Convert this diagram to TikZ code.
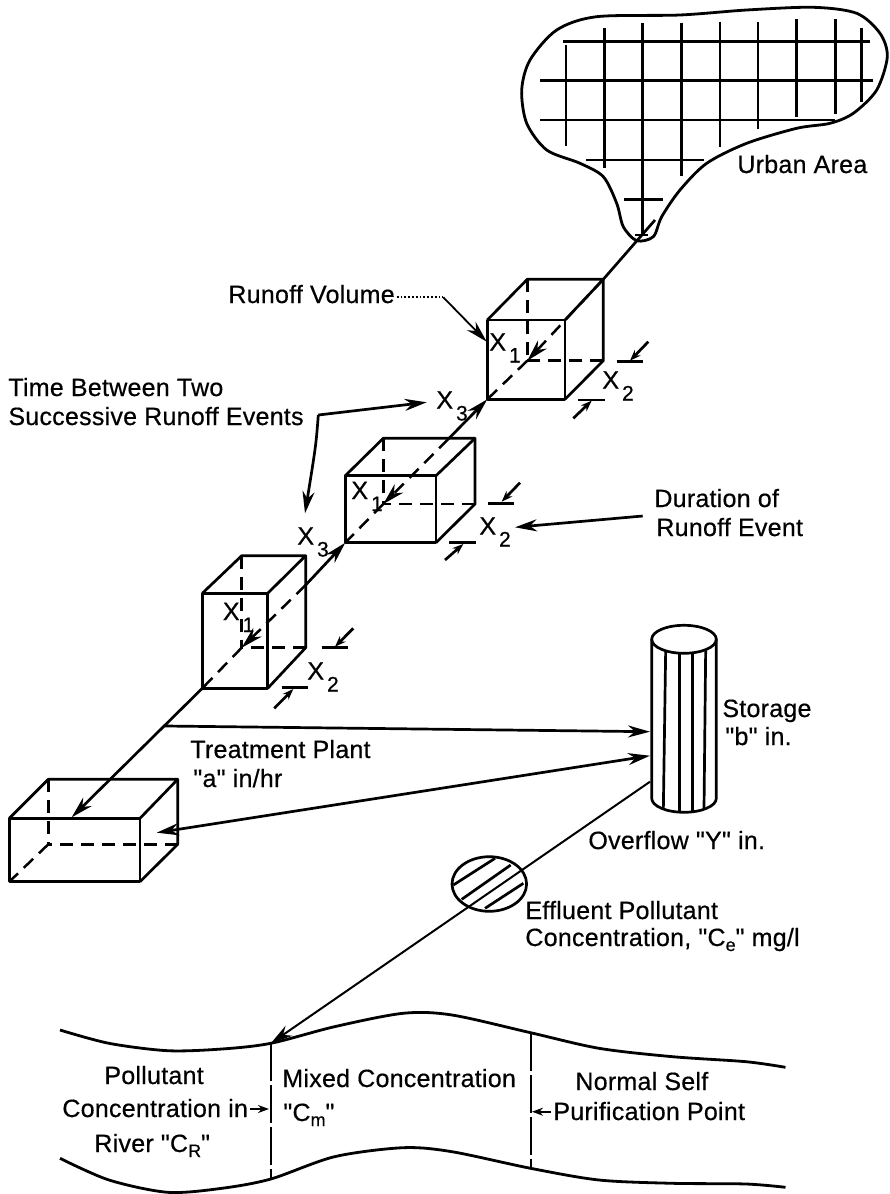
\documentclass[tikz,border=0pt]{standalone}
\usepackage{fontspec}
\usetikzlibrary{arrows.meta}
\newfontfamily\lblfont[LetterSpace=1,FakeBold=0.5]{Liberation Sans}
\newcommand{\Xs}[2]{#1\kern1.5pt\raisebox{-6pt}{\fontsize{10.5}{11}\selectfont #2}}
\newcommand{\subsc}[1]{\raisebox{-2.5pt}{\fontsize{9}{10}\selectfont #1}}
% name, front left/top, front right/bottom, back left/top, back right/bottom
\newcommand{\isobox}[9]{%
  \coordinate (#1f1) at (#2,#3); \coordinate (#1f2) at (#4,#3);
  \coordinate (#1f3) at (#4,#5); \coordinate (#1f4) at (#2,#5);
  \coordinate (#1b1) at (#6,#7); \coordinate (#1b2) at (#8,#7);
  \coordinate (#1b3) at (#8,#9); \coordinate (#1b4) at (#6,#9);
  \draw[boxline] (#1f1) -- (#1f2) -- (#1f3) -- (#1f4) -- cycle;
  \draw[boxline] (#1f1) -- (#1b1) -- (#1b2) -- (#1f2);
  \draw[boxline] (#1b2) -- (#1b3) -- (#1f3);
  \draw[hidden] (#1b1) -- (#1b4);
  \draw[hidden] (#1b3) -- (#1b4);
  \draw[hidden] (#1b4) -- (#1f4);
}
\tikzset{
  boxline/.style={line width=1.35pt,line join=round},
  hidden/.style={line width=1.25pt,dash pattern=on 6.5pt off 4pt},
  flow/.style={line width=1.35pt},
  thin line/.style={line width=0.9pt},
  bigarrow/.style={-{Stealth[length=11pt,width=6pt]}},
  smallarrow/.style={-{Stealth[length=5.5pt,width=4pt]}},
  street/.style={line width=1.4pt},
  lbl/.style={inner sep=0pt,anchor=base west,font=\lblfont\fontsize{12.5}{14}\selectfont},
  zoomed/.style={x=0.16667pt,y=-0.16667pt}
}
\begin{document}
\begin{tikzpicture}[x=0.5pt,y=-0.5pt]
\useasboundingbox (0,0) rectangle (889,1194);

% urban area
\draw[line width=1.4pt] plot[smooth cycle] coordinates {(521.7,90) (530,60) (556.7,30) (596.7,16.7) (680,15) (746.7,10) (813.3,7.3) (856.7,13.3) (880,33.3) (887.3,56.7) (876.7,90) (853.3,113.3) (830,123.3) (796.7,128.3) (746.7,143.3) (706.7,163.3) (680,190) (661.7,216.7) (653.3,236.7) (636.7,240.7) (623.3,226.7) (616.7,203.3) (603.3,176.7) (580,163.3) (546.7,150) (526.7,123.3)};
\begin{scope}[shift={(480,0)},zoomed]
  \foreach \ya/\xa/\xb in {125/250/1170,241/180/1180,360/180/1065,480/318/672,598/432/550,705/465/505}
    \draw[street] (\xa,\ya) -- (\xb,\ya);
  \foreach \xa/\ya/\yb in {258/135/437,374/85/505,487/70/705,605/68/528,720/65/440,834/65/388,950/58/350,1067/58/342,1145/83/307}
    \draw[street] (\xa,\ya) -- (\xa,\yb);
\end{scope}
\node[lbl] (urban) at (737,173) {Urban Area};

% boxes
\isobox{a}{487.3}{320}{565}{399.3}{527.3}{279.3}{603.3}{360.7}
\isobox{c}{345.3}{475.7}{436}{542.7}{383.3}{438.3}{475}{504}
\isobox{d}{202.3}{593.3}{267.7}{688.3}{241.7}{555.7}{305.7}{647.7}
\isobox{e}{9.3}{818.3}{140}{881.7}{48.3}{779.3}{177.7}{844.3}

% main flow line
\coordinate (tip) at (655,220);
\coordinate (ctop) at (448.3,439);
\coordinate (dtop) at (305.7,585);
\coordinate (branch) at (165,726);
\coordinate (earrow) at (71.7,817.3);
\draw[flow] (tip) -- (ab2);
\draw[hidden,bigarrow] (ab2) -- (ab4);
\draw[flow,bigarrow] (ctop) -- (af4);
\draw[hidden,bigarrow] (ctop) -- (cb4);
\draw[flow,bigarrow] (dtop) -- (cf4);
\draw[hidden,bigarrow] (dtop) -- (db4);
\draw[flow,bigarrow] (df4) -- (earrow);

% dimension marks
\foreach \ax/\ay/\bx/\by/\cx/\cy/\dx/\dy in {
  616.7/361.7/643.3/361.7/648.3/341.7/630/360.7,
  578.3/400/605/400/573.3/418.3/591.7/400.7,
  488.3/503.3/514.3/503.3/520/482.7/501.7/501.7,
  449.3/542.7/476/542.7/445/560/463.3/544,
  321.7/647.7/348.3/647.7/353.3/628.3/335/646.7,
  281.7/687.3/308.3/687.3/274.3/708.3/293.3/689}{
  \draw[flow] (\ax,\ay) -- (\bx,\by);
  \draw[flow,smallarrow] (\cx,\cy) -- (\dx,\dy);
}

% X labels
\node[lbl] (xa1) at (489,350.5) {\Xs{X}{1}};
\node[lbl] (xa2) at (602,388.5) {\Xs{X}{2}};
\node[lbl] (xa3) at (436,408.5) {\Xs{X}{3}};
\node[lbl] (xc1) at (351,499) {\Xs{X}{1}};
\node[lbl] (xc2) at (479,534.5) {\Xs{X}{2}};
\node[lbl] (xc3) at (297,544.5) {\Xs{X}{3}};
\node[lbl] (xd1) at (222.5,620) {\Xs{X}{1}};
\node[lbl] (xd2) at (307,679.5) {\Xs{X}{2}};

% upper left labels
\node[lbl] (runoff) at (228,303) {Runoff Volume};
\coordinate (rbend) at (443.3,297.3);
\coordinate (rstart) at (396.7,297.3);
\coordinate (rend) at (486.7,341.7);
\draw[thin line,densely dotted] (rstart) -- (rbend);
\draw[thin line,bigarrow] (rbend) -- (rend);
\node[lbl] (time1) at (8,396) {Time Between Two};
\node[lbl] (time2) at (8,425) {Successive Runoff Events};
\coordinate (bend) at (318.3,415);
\coordinate (to3a) at (426.7,402.3);
\coordinate (to3c) at (305,513.3);
\draw[flow,bigarrow] (bend) -- (to3a);
\draw[flow,bigarrow] (bend) .. controls (316,445) .. (to3c);

\node[lbl] (dur1) at (654,507) {Duration of};
\node[lbl] (dur2) at (656,536) {Runoff Event};
\coordinate (dstart) at (642.7,516);
\coordinate (dend) at (515,527.3);
\draw[flow,bigarrow] (dstart) -- (dend);

% storage
\coordinate (stc) at (684,639.3);
\draw[boxline] (stc) ellipse [x radius=32.3,y radius=14];
\draw[boxline] (651.7,639.3) -- (651.7,798.3) arc[start angle=180,end angle=360,x radius=32.3,y radius=-14] -- (716.3,639.3);
\begin{scope}[shift={(400,610)},zoomed]
  \draw[boxline] (797,122) -- (790,598);
  \draw[boxline] (838,130) -- (838,608);
  \draw[boxline] (878,130) -- (878,608);
  \draw[boxline] (917,122) -- (912,595);
\end{scope}
\coordinate (sin1) at (650,731.7);
\coordinate (sin2) at (650,755.7);
\coordinate (sout) at (650,781.7);
\coordinate (eside) at (156.7,832.7);
\draw[flow,bigarrow] (branch) -- (sin1);
\draw[flow,{Stealth[length=11pt,width=6pt]}-{Stealth[length=11pt,width=6pt]}] (eside) -- (sin2);

\node[lbl] (storage1) at (722,717) {Storage};
\node[lbl] (storage2) at (725,745) {"b" in.};
\node[lbl] (plant1) at (190,758) {Treatment Plant};
\node[lbl] (plant2) at (193,787) {"a" in/hr};
\node[lbl] (over) at (588,849) {Overflow "Y" in.};

% effluent
\coordinate (rivertip) at (270.8,1043.3);
\draw[line width=1pt,bigarrow] (sout) -- (rivertip);
\draw[boxline] (489.3,884) ellipse [x radius=37.3,y radius=27.3];
\begin{scope}[shift={(400,610)},zoomed]
  \draw[boxline] (160,825) -- (285,745);
  \draw[boxline] (185,868) -- (332,765);
  \draw[boxline] (255,895) -- (370,820);
\end{scope}
\node[lbl] (eff1) at (525,919) {Effluent Pollutant};
\node[lbl] (eff2) at (525,946) {Concentration, "C\subsc{e}" mg/l};

% river
\draw[line width=1.4pt] plot[smooth] coordinates {(60,1030) (109,1043.3) (167.8,1050.7) (221.8,1049) (270.8,1043.3) (334.5,1026.7) (403,1013.3) (452,1015) (530.6,1032.7) (599,1048.3) (672.7,1056.7) (746,1061.7) (785.5,1067.3)};
\draw[line width=1.4pt] plot[smooth] coordinates {(60,1158.3) (109,1180) (167.8,1192.3) (221.8,1188.3) (270.8,1179) (334.5,1156.7) (403,1147.7) (452,1151.7) (530.6,1168.3) (599,1180) (672.7,1183.3) (746,1184) (785.5,1187.3)};
\coordinate (m1t) at (270.8,1043.3);
\coordinate (m1b) at (270.8,1179);
\coordinate (m2t) at (530.6,1032.7);
\coordinate (m2b) at (530.6,1168.3);
\draw[line width=1pt,dash pattern=on 19pt off 2pt] (m1t) -- (m1b);
\draw[line width=1pt,dash pattern=on 19pt off 2pt] (m2t) -- (m2b);
\node[lbl] (pol1) at (104,1084) {Pollutant};
\node[lbl] (pol2) at (62,1117) {Concentration in};
\node[lbl] (pol3) at (94,1152) {River "C\subsc{R}"};
\coordinate (pa) at (250,1109);
\coordinate (pb) at (269,1109);
\draw[thin line,smallarrow] (pa) -- (pb);
\node[lbl] (mix1) at (282,1087) {Mixed Concentration};
\node[lbl] (mix2) at (283,1121) {"C\subsc{m}"};
\node[lbl] (norm1) at (575,1090) {Normal Self};
\node[lbl] (norm2) at (553,1120) {Purification Point};
\coordinate (na) at (551,1111.7);
\coordinate (nb) at (532,1111.7);
\draw[thin line,smallarrow] (na) -- (nb);
\end{tikzpicture}
\end{document}
